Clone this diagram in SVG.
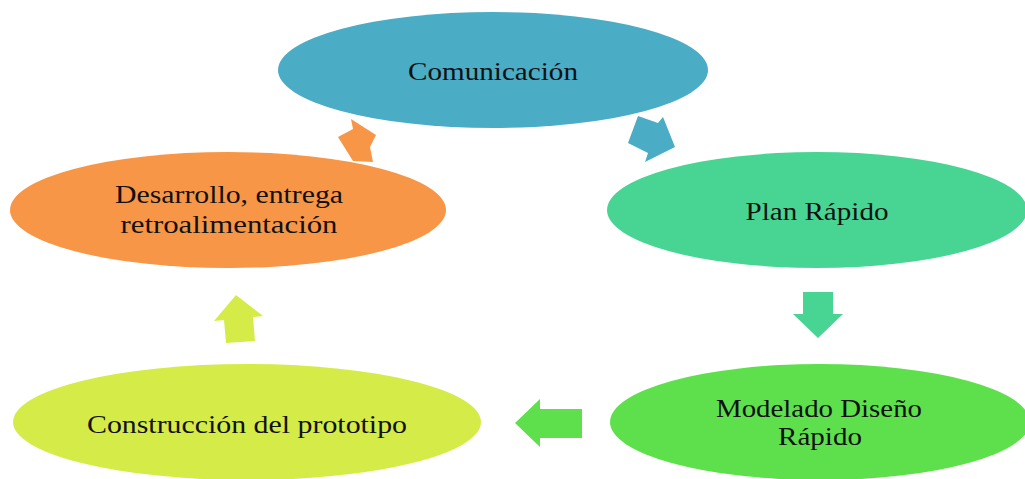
<svg xmlns="http://www.w3.org/2000/svg" width="1025" height="479" viewBox="0 0 1025 479">
<style>
text{font-family:"Liberation Serif","Times New Roman",serif;font-size:26px;fill:#111;text-anchor:middle}
.s{font-size:25px}
</style>
<rect width="1025" height="479" fill="#fff"/>
<g id="connectors">
<polygon fill="#4BACC6" points="628,143 638,116 658,123 663,117 675,147 645,162 648,153"/>
<polygon fill="#48D594" points="803,292 833,292 833,314 843,314 818,338 793,314 803,314"/>
<polygon fill="#5EE04C" points="582,409 582,438 540,438 540,447 515,423 540,399 540,409"/>
<polygon fill="#D5EC48" points="236,295 263,316 253,317 255,341 226,343 224,320 214,321"/>
<polygon fill="#F79646" points="338,137 353,129 351,119 376,135 370,147 373,162 353,161"/>
</g>
<g id="comunicacion">
<ellipse cx="493" cy="70" rx="215" ry="58" fill="#4BACC6"/>
<text x="493" y="80" textLength="170" lengthAdjust="spacingAndGlyphs">Comunicación</text>
</g>
<g id="plan">
<ellipse cx="817" cy="210" rx="210" ry="58" fill="#48D594"/>
<text x="817" y="220" textLength="143" lengthAdjust="spacingAndGlyphs">Plan Rápido</text>
</g>
<g id="modelado">
<ellipse cx="820" cy="422" rx="210" ry="58" fill="#5EE04C"/>
<text class="s" x="819" y="417" textLength="206" lengthAdjust="spacingAndGlyphs">Modelado Diseño</text>
<text class="s" x="820" y="445" textLength="84" lengthAdjust="spacingAndGlyphs">Rápido</text>
</g>
<g id="construccion">
<ellipse cx="247" cy="422" rx="234" ry="58" fill="#D5EC48"/>
<text x="247" y="433" textLength="320" lengthAdjust="spacingAndGlyphs">Construcción del prototipo</text>
</g>
<g id="desarrollo">
<ellipse cx="228" cy="210" rx="218" ry="58" fill="#F79646"/>
<text x="229" y="203" textLength="228" lengthAdjust="spacingAndGlyphs">Desarrollo, entrega</text>
<text x="229" y="233" textLength="217" lengthAdjust="spacingAndGlyphs">retroalimentación</text>
</g>
</svg>
